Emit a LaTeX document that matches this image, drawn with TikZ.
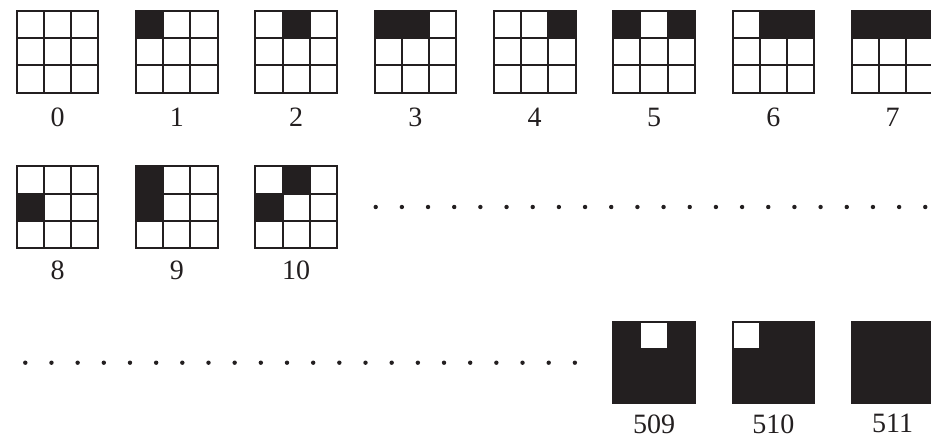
\documentclass[tikz,border=0pt]{standalone}
\usepackage{fontspec}
\setmainfont{Liberation Serif}
\usepackage{xcolor}
\usetikzlibrary{positioning, calc}
\definecolor{bitInk}{HTML}{231F20}

\begin{document}
\begin{tikzpicture}[x=1pt, y=-1pt,
  cellbox/.style={draw=bitInk, line width=2pt, minimum size=81.6pt, inner sep=0pt, outer sep=0pt, anchor=north west},
  cellline/.style={draw=bitInk, line width=2pt},
  bitset/.style={fill=bitInk},
  codelabel/.style={font=\fontsize{28}{30}\selectfont, text=bitInk, inner sep=0pt},
  dotmark/.style={circle, fill=bitInk, inner sep=0pt, minimum size=4.4pt}
]
\useasboundingbox (0,0) rectangle (931,441);

% patterns: number/column/row/label gap
\foreach \n/\c/\r/\gap in {0/0/0/15, 1/1/0/15, 2/2/0/15, 3/3/0/15, 4/4/0/15, 5/5/0/15, 6/6/0/15, 7/7/0/15,
                      8/0/1/13, 9/1/1/13, 10/2/1/13, 509/5/2/11, 510/6/2/11, 511/7/2/11} {
  \node[cellbox] (g\n) at (16.7+119.3*\c, 11+155.3*\r) {};
  \foreach \k in {0,...,8} {
    \pgfmathtruncatemacro\bit{mod(floor(\n/2^\k),2)}
    \pgfmathtruncatemacro\kx{mod(\k,3)}
    \pgfmathtruncatemacro\ky{floor(\k/3)}
    \ifnum\bit=1
      \fill[bitset] ($(g\n.north west)+(27.2*\kx,27.2*\ky)$) rectangle +(27.2,27.2);
    \fi
  }
  \foreach \s in {1,2} {
    \draw[cellline] ($(g\n.north west)+(27.2*\s,0)$) -- ($(g\n.south west)+(27.2*\s,0)$);
    \draw[cellline] ($(g\n.north west)+(0,27.2*\s)$) -- ($(g\n.north east)+(0,27.2*\s)$);
  }
  \node[codelabel, below=\gap pt of g\n] (l\n) {\n};
}

% the elided patterns
\foreach \i in {0,...,21} {
  \node[dotmark] (ta\i) at (375.7+26.17*\i, 207) {};
  \node[dotmark] (tb\i) at (25.3+26.17*\i, 362.7) {};
}
\end{tikzpicture}
\end{document}
